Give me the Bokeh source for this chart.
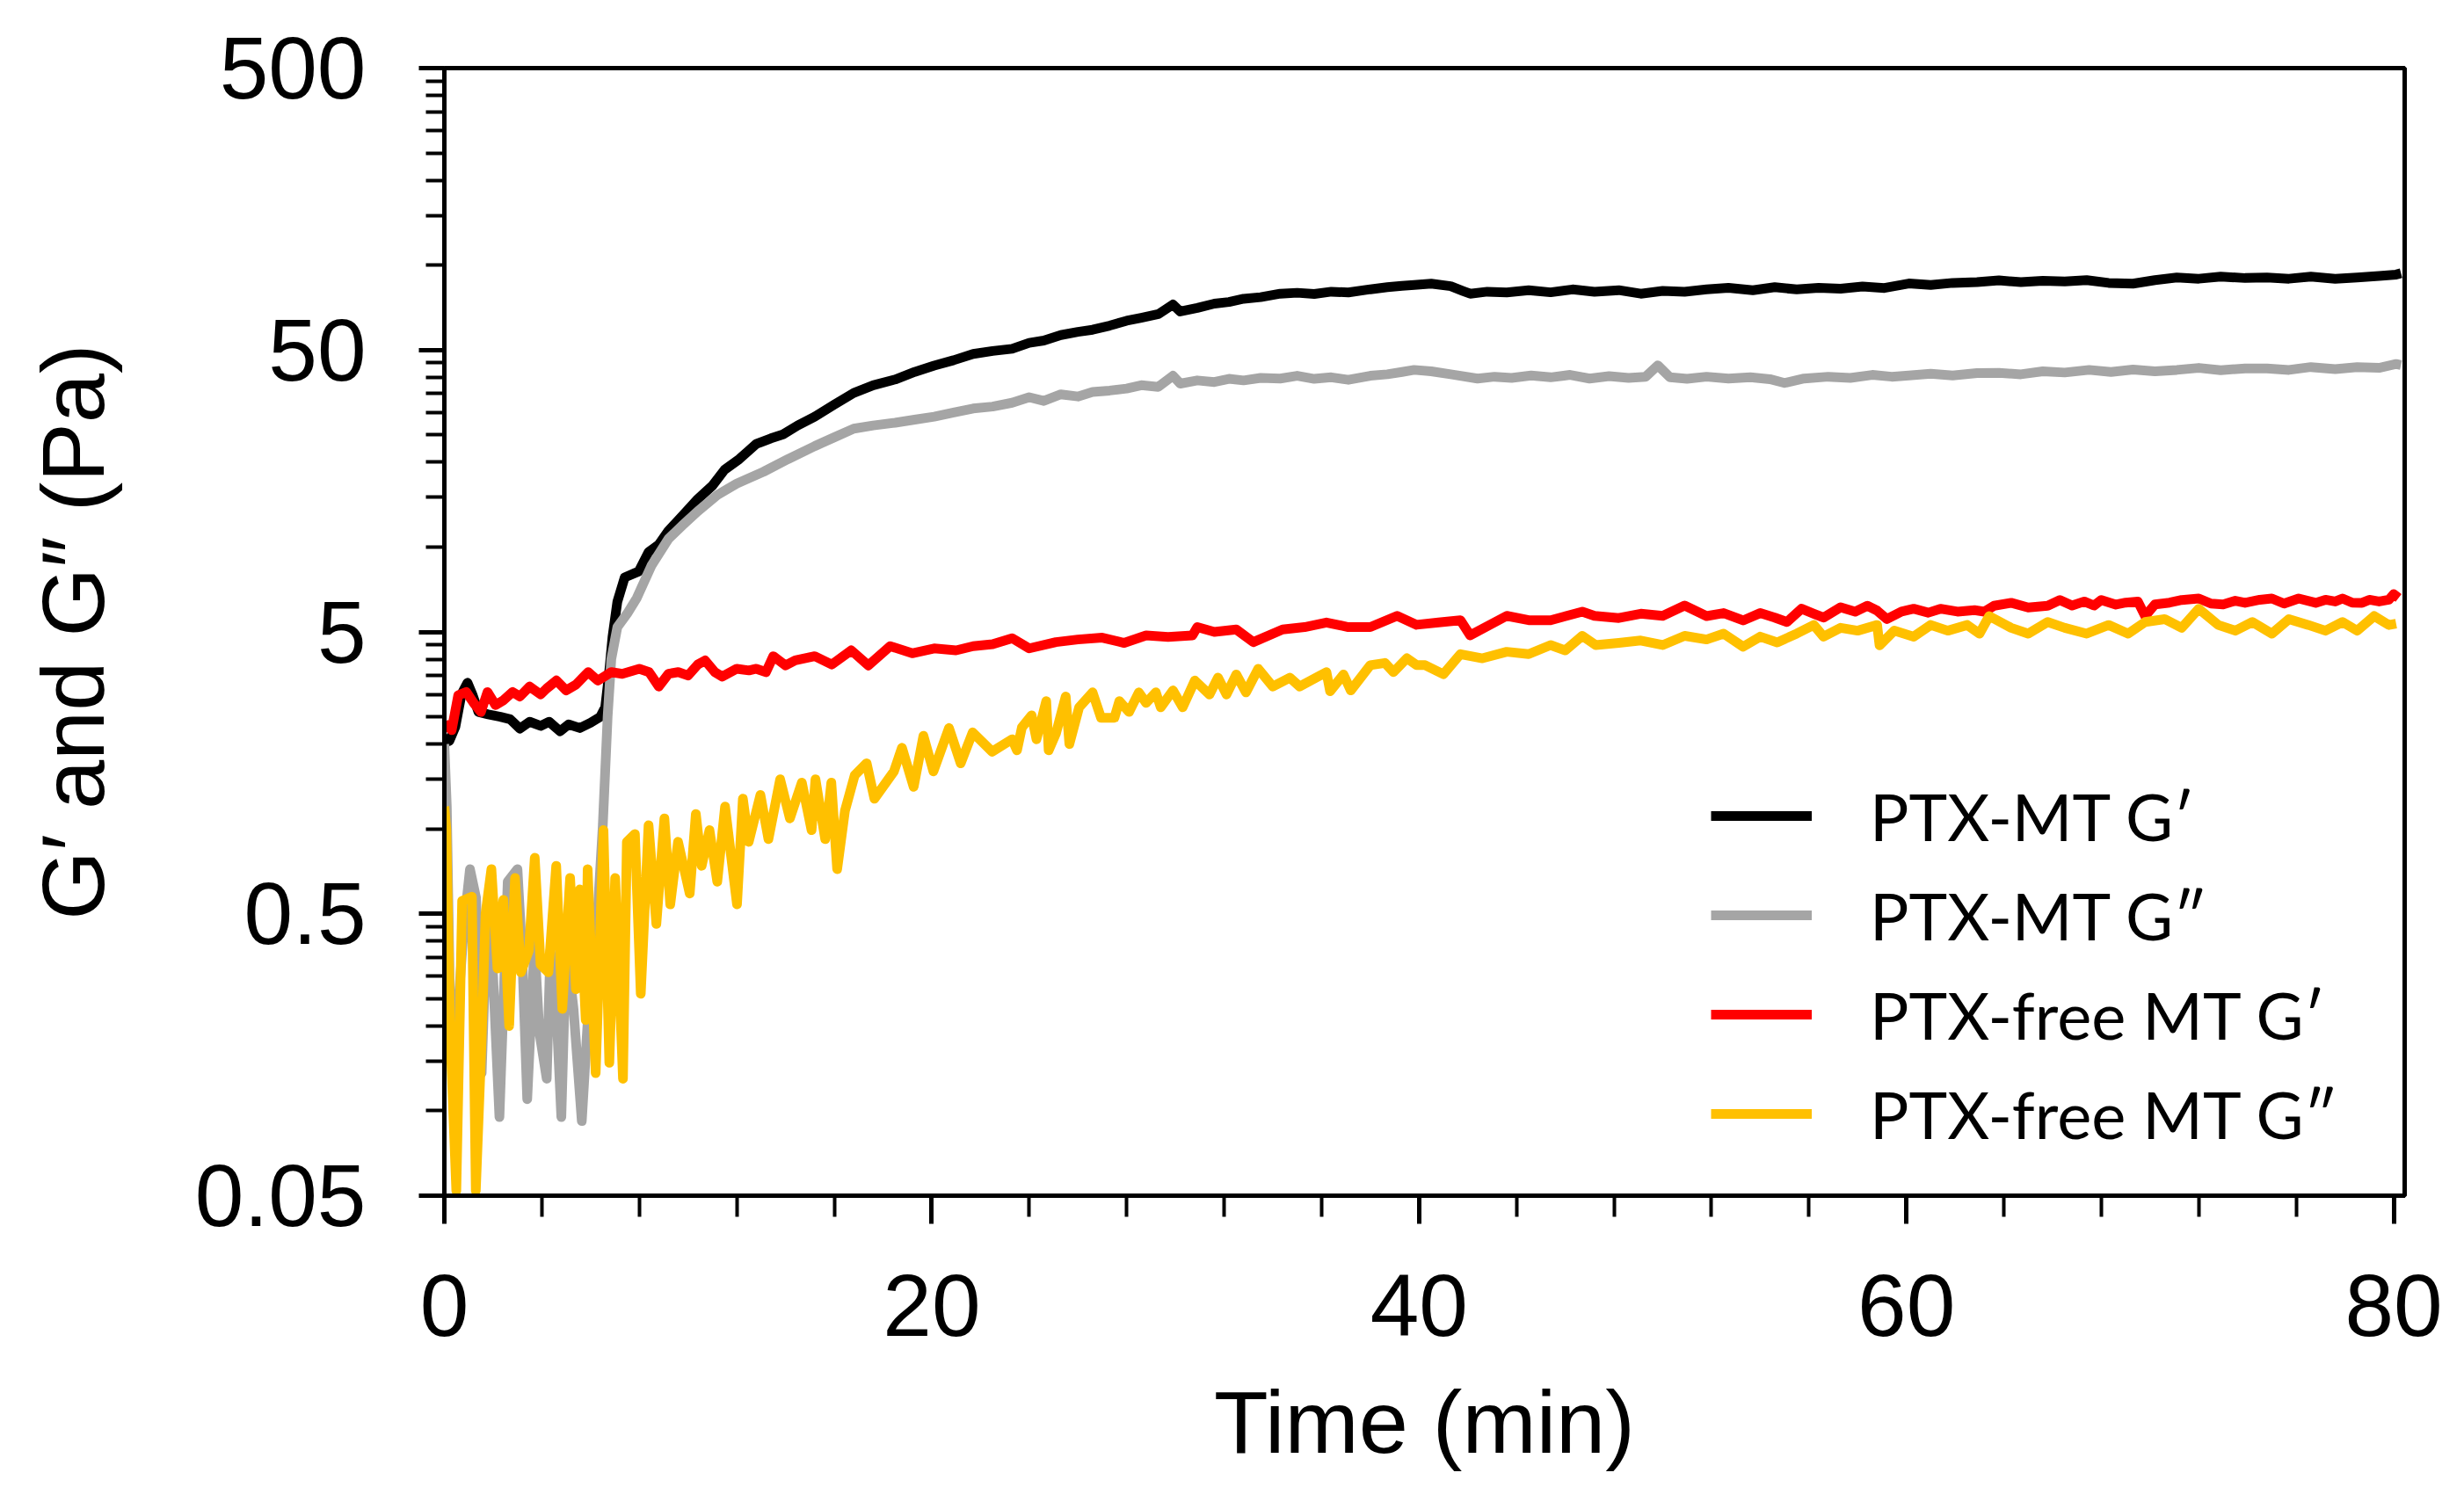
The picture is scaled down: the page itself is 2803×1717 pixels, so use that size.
from bokeh.plotting import figure
from bokeh.models import Range1d, FixedTicker, Legend, LegendItem
from bokeh.embed import file_html
from bokeh.resources import INLINE

# ---------------- data ----------------
series_names = ["PTX-MT G′", "PTX-MT G″", "PTX-free MT G′", "PTX-free MT G″"]
series_colors = ["#000000", "#A5A5A5", "#FF0000", "#FFC000"]

t_mt_g1 = [0, 0.2, 0.45, 0.7, 0.95, 1.15, 1.4, 1.8, 2.3, 2.7, 3.1, 3.5, 3.95, 4.3, 4.75,
           5.1, 5.56, 6.0, 6.4, 6.6, 6.75, 6.9, 7.1, 7.4, 7.98, 8.38, 8.8, 9.19, 9.8, 10.4,
           11.0, 11.5, 12.1, 12.8, 13.4, 13.9, 14.5, 15.2, 16.0, 16.8, 17.6, 18.5, 19.3,
           20.1, 20.9, 21.7, 22.5, 23.3, 24.0, 24.6, 25.3, 26.0, 26.6, 27.3, 28.0, 28.6,
           29.3, 29.9, 30.2, 30.9, 31.6, 32.2, 32.8, 33.5, 34.3, 35.0, 35.7, 36.4, 37.1,
           38.0, 38.7, 39.3, 39.8, 40.5, 41.3, 41.8, 42.1, 42.8, 43.6, 44.5, 45.4, 46.3,
           47.2, 48.2, 49.1, 50.0, 50.9, 51.8, 52.7, 53.7, 54.6, 55.5, 56.4, 57.3, 58.2,
           59.1, 60.1, 61.0, 61.9, 62.9, 63.8, 64.7, 65.6, 66.5, 67.4, 68.3, 69.3, 70.2,
           71.1, 72.0, 72.9, 73.9, 74.8, 75.7, 76.6, 77.6, 78.5, 79.4, 80.1, 80.3]
v_mt_g1 = [2.1, 2.05, 2.3, 3.0, 3.3, 3.0, 2.6, 2.55, 2.5, 2.45, 2.27, 2.4, 2.32, 2.4, 2.22,
           2.35, 2.28, 2.38, 2.5, 2.7, 3.5, 4.8, 6.4, 7.8, 8.2, 9.6, 10.2, 11.4, 13.0, 14.8,
           16.5, 18.8, 20.5, 23.2, 24.3, 25.1, 27.0, 29.0, 32.0, 35.2, 37.5, 39.3, 41.8,
           44.0, 46.0, 48.4, 49.6, 50.5, 53.0, 54.0, 56.5, 58.0, 59.0, 61.0, 63.5, 65.0,
           67.0, 72.5, 68.5, 70.5, 73.0, 74.0, 76.0, 77.0, 79.2, 79.8, 79.0, 80.5, 80.0,
           82.1, 83.5, 84.5, 85.1, 86.0, 84.2, 81.0, 79.2, 80.5, 80.0, 81.5, 80.1, 82.0,
           80.5, 81.5, 79.2, 81.0, 80.5, 82.0, 83.1, 81.5, 83.5, 82.0, 83.1, 82.5, 84.0,
           83.0, 86.1, 85.0, 86.5, 87.0, 88.3, 87.0, 88.0, 87.5, 88.5, 86.5, 86.0, 88.5,
           90.4, 89.5, 91.0, 90.0, 90.4, 89.5, 91.0, 89.5, 90.4, 91.5, 92.6, 93.6]

t_mt_g2 = [0, 0.1, 0.2, 0.24, 0.56, 0.8, 1.05, 1.3, 1.53, 1.75, 2.0, 2.26, 2.6, 3.0, 3.2,
           3.4, 3.7, 3.9, 4.2, 4.35, 4.55, 4.8, 5.0, 5.3, 5.64, 5.9, 6.2, 6.5, 6.7, 6.85,
           7.1, 7.5, 7.9, 8.5, 9.2, 9.8, 10.4, 11.2, 12.0, 13.1, 14.1, 15.2, 16.0, 16.8,
           17.6, 18.5, 19.3, 20.1, 20.9, 21.7, 22.5, 23.3, 24.0, 24.6, 25.3, 26.0, 26.6,
           27.3, 28.0, 28.6, 29.3, 29.9, 30.2, 30.9, 31.6, 32.2, 32.8, 33.5, 34.3, 35.0,
           35.7, 36.4, 37.1, 38.0, 38.7, 39.3, 39.8, 40.5, 41.3, 42.4, 43.1, 43.8, 44.6,
           45.4, 46.2, 47.0, 47.8, 48.6, 49.3, 49.8, 50.3, 51.0, 51.8, 52.7, 53.6, 54.4,
           55.0, 55.8, 56.8, 57.7, 58.6, 59.4, 60.1, 61.0, 61.9, 62.9, 63.8, 64.7, 65.6,
           66.5, 67.5, 68.4, 69.3, 70.2, 71.1, 72.0, 72.9, 73.9, 74.8, 75.7, 76.6, 77.6,
           78.5, 79.4, 80.1, 80.3]
v_mt_g2 = [2.0, 1.2, 0.35, 0.19, 0.23, 0.45, 0.72, 0.57, 0.136, 0.49, 0.3, 0.095, 0.65, 0.72,
           0.35, 0.11, 0.39, 0.19, 0.13, 0.37, 0.28, 0.095, 0.39, 0.23, 0.092, 0.22, 0.37,
           1.02, 2.5, 4.0, 5.2, 5.8, 6.6, 8.6, 10.7, 12.0, 13.4, 15.3, 16.8, 18.5, 20.5,
           22.8, 24.5, 26.3, 27.0, 27.6, 28.3, 29.0, 30.0, 31.0, 31.5, 32.5, 34.0, 33.0,
           34.8, 34.2, 35.5, 35.9, 36.5, 37.5, 37.0, 40.5, 38.0, 39.0, 38.5, 39.5, 39.0,
           39.8, 39.6, 40.5, 39.5, 40.0, 39.2, 40.5, 41.0, 41.8, 42.5, 42.0, 41.0, 39.6,
           40.2, 39.8, 40.6, 40.0, 40.8, 39.6, 40.4, 39.8, 40.2, 44.1, 40.0, 39.5, 40.2,
           39.6, 40.0, 39.4, 38.2, 39.6, 40.2, 39.8, 40.8, 40.2, 40.6, 41.2, 40.6, 41.4,
           41.5, 41.0, 42.0, 41.6, 42.5, 41.8, 42.6, 42.0, 42.5, 43.2, 42.4, 43.0, 43.0,
           42.5, 43.5, 42.8, 43.5, 43.2, 44.6, 44.2]

t_free_g1 = [0, 0.3, 0.57, 0.9, 1.2, 1.5, 1.77, 2.1, 2.4, 2.8, 3.1, 3.5, 3.95, 4.2, 4.6, 5.0,
             5.4, 5.9, 6.3, 6.85, 7.3, 8.0, 8.4, 8.8, 9.2, 9.6, 10.0, 10.4, 10.7, 11.1, 11.4,
             12.0, 12.5, 12.8, 13.2, 13.5, 14.0, 14.4, 15.2, 15.9, 16.7, 17.4, 18.3, 19.2,
             20.1, 21.0, 21.7, 22.5, 23.3, 24.0, 25.1, 26.0, 27.0, 27.9, 28.8, 29.7, 30.7,
             30.9, 31.6, 32.5, 33.2, 34.4, 35.3, 36.2, 37.1, 38.0, 39.1, 39.9, 40.8, 41.7,
             42.1, 43.6, 44.5, 45.4, 46.7, 47.2, 48.2, 49.1, 50.0, 50.9, 51.8, 52.5, 53.3,
             54.0, 54.6, 55.1, 55.7, 56.2, 56.6, 57.3, 57.9, 58.4, 58.8, 59.2, 59.8, 60.3,
             60.9, 61.4, 62.1, 62.8, 63.2, 63.6, 64.3, 65.0, 65.8, 66.3, 66.8, 67.3, 67.7,
             68.0, 68.6, 69.0, 69.5, 69.8, 70.2, 70.8, 71.3, 72.0, 72.5, 73.0, 73.5, 73.9,
             74.5, 75.0, 75.5, 76.1, 76.8, 77.2, 77.6, 77.9, 78.3, 78.7, 79.0, 79.4, 79.8,
             80.0, 80.2]
v_free_g1 = [2.37, 2.24, 2.98, 3.06, 2.8, 2.6, 3.06, 2.75, 2.85, 3.06, 2.95, 3.2, 3.0, 3.15,
             3.36, 3.1, 3.25, 3.6, 3.36, 3.6, 3.55, 3.7, 3.6, 3.2, 3.55, 3.6, 3.5, 3.83, 3.96,
             3.6, 3.47, 3.7, 3.65, 3.7, 3.6, 4.1, 3.8, 3.96, 4.1, 3.83, 4.3, 3.8, 4.45, 4.2,
             4.37, 4.3, 4.45, 4.52, 4.75, 4.37, 4.6, 4.7, 4.77, 4.57, 4.86, 4.8, 4.86, 5.2,
             5.0, 5.1, 4.6, 5.1, 5.2, 5.4, 5.2, 5.2, 5.7, 5.3, 5.4, 5.5, 4.86, 5.7, 5.5, 5.5,
             5.9, 5.7, 5.6, 5.8, 5.7, 6.2, 5.69, 5.83, 5.49, 5.83, 5.62, 5.42, 6.04, 5.8,
             5.62, 6.11, 5.9, 6.19, 5.95, 5.55, 5.9, 6.04, 5.85, 6.04, 5.9, 5.97, 5.9, 6.19,
             6.34, 6.1, 6.19, 6.49, 6.2, 6.41, 6.2, 6.49, 6.25, 6.35, 6.41, 5.69, 6.26, 6.35,
             6.49, 6.57, 6.3, 6.26, 6.45, 6.34, 6.5, 6.57, 6.3, 6.57, 6.34, 6.5, 6.41, 6.57,
             6.35, 6.34, 6.5, 6.41, 6.5, 6.81, 6.6]

t_free_g2 = [0, 0.08, 0.24, 0.49, 0.73, 1.13, 1.29, 1.53, 1.69, 1.93, 2.18, 2.42, 2.66, 2.9,
             3.14, 3.47, 3.71, 3.95, 4.27, 4.59, 4.84, 5.16, 5.4, 5.56, 5.8, 5.88, 6.21, 6.53,
             6.77, 7.01, 7.33, 7.49, 7.82, 8.06, 8.38, 8.7, 9.03, 9.27, 9.59, 10.07, 10.32,
             10.56, 10.88, 11.2, 11.52, 12.01, 12.25, 12.49, 12.97, 13.3, 13.78, 14.18, 14.67,
             15.07, 15.23, 15.63, 15.88, 16.12, 16.44, 16.84, 17.33, 17.65, 18.45, 18.78,
             19.26, 19.66, 20.07, 20.71, 21.19, 21.68, 22.48, 23.3, 23.5, 23.7, 24.1, 24.3,
             24.7, 24.8, 25.1, 25.5, 25.65, 26.05, 26.6, 26.95, 27.5, 27.7, 28.1, 28.5, 28.8,
             29.2, 29.4, 29.9, 30.3, 30.8, 31.4, 31.75, 32.1, 32.5, 32.9, 33.4, 34.0, 34.7,
             35.1, 36.2, 36.35, 36.9, 37.2, 38.0, 38.6, 38.95, 39.5, 39.9, 40.25, 41.0, 41.7,
             42.6, 43.6, 44.5, 45.4, 46.0, 46.7, 47.25, 48.2, 49.1, 50.0, 50.9, 51.8, 52.5,
             53.3, 54.0, 54.7, 55.5, 56.2, 56.6, 57.3, 58.0, 58.8, 58.9, 59.5, 60.3, 61.0,
             61.7, 62.5, 63.0, 63.4, 64.3, 65.0, 65.8, 66.5, 67.4, 68.3, 69.1, 69.8, 70.6,
             71.3, 72.0, 72.8, 73.5, 74.2, 75.0, 75.7, 76.5, 77.2, 77.9, 78.5, 79.2, 79.8,
             80.1]
v_free_g2 = [1.2, 1.0, 0.19, 0.052, 0.556, 0.575, 0.052, 0.18, 0.5, 0.72, 0.32, 0.56, 0.2,
             0.67, 0.31, 0.37, 0.79, 0.33, 0.31, 0.74, 0.23, 0.67, 0.27, 0.61, 0.21, 0.72,
             0.136, 0.99, 0.148, 0.67, 0.13, 0.9, 0.96, 0.26, 1.03, 0.46, 1.09, 0.54, 0.9,
             0.59, 1.13, 0.74, 0.99, 0.65, 1.2, 0.54, 1.28, 0.9, 1.32, 0.92, 1.5, 1.09, 1.46,
             0.99, 1.5, 0.92, 1.46, 0.72, 1.16, 1.55, 1.71, 1.28, 1.6, 1.94, 1.41, 2.14, 1.6,
             2.28, 1.71, 2.2, 1.88, 2.08, 1.9, 2.29, 2.53, 2.08, 2.84, 1.9, 2.18, 2.95, 2.0,
             2.7, 3.05, 2.48, 2.48, 2.84, 2.6, 3.05, 2.8, 3.05, 2.7, 3.1, 2.7, 3.36, 3.0, 3.44,
             3.0, 3.53, 3.05, 3.7, 3.2, 3.44, 3.2, 3.6, 3.08, 3.53, 3.1, 3.81, 3.88, 3.6, 4.03,
             3.81, 3.81, 3.54, 4.17, 4.03, 4.25, 4.17, 4.49, 4.3, 4.84, 4.49, 4.57, 4.66, 4.49,
             4.84, 4.7, 4.93, 4.43, 4.81, 4.59, 4.93, 5.29, 4.81, 5.17, 5.05, 5.29, 4.48, 5.05,
             4.81, 5.29, 5.05, 5.29, 4.93, 5.69, 5.17, 4.93, 5.42, 5.17, 4.93, 5.29, 4.93, 5.42,
             5.55, 5.17, 6.04, 5.29, 5.05, 5.42, 4.93, 5.55, 5.29, 5.05, 5.42, 5.05, 5.69, 5.29,
             5.35]

x_major = [0, 20, 40, 60, 80]
x_minor = [4, 8, 12, 16, 24, 28, 32, 36, 44, 48, 52, 56, 64, 68, 72, 76]
y_major = [0.05, 0.5, 5, 50, 500]
y_major_labels = ["0.05", "0.5", "5", "50", "500"]
y_minor = [m * k for m in [0.05, 0.5, 5, 50] for k in range(2, 10)]

x_title = "Time (min)"
y_title = "G′ and G″ (Pa)"

# ---------------- figure ----------------
p = figure(width=2787, height=1701,
           x_range=Range1d(0, 80.45), y_range=Range1d(0.05, 500),
           y_axis_type="log", output_backend="svg", toolbar_location=None,
           min_border_left=505, min_border_right=52, min_border_top=77,
           min_border_bottom=341)
p.xgrid.visible = False
p.ygrid.visible = False
p.background_fill_color = "white"
p.border_fill_color = "white"
p.outline_line_color = "black"
p.outline_line_width = 5
p.outline_line_alpha = 1.0

xs = [t_mt_g1, t_mt_g2, t_free_g1, t_free_g2]
ys = [v_mt_g1, v_mt_g2, v_free_g1, v_free_g2]
renderers = []
for x, y, c in zip(xs, ys, series_colors):
    r = p.line(x, y, line_color=c, line_width=11, line_join="round")
    renderers.append(r)

# axes
for ax in (p.xaxis, p.yaxis):
    ax.axis_line_width = 5
    ax.axis_line_color = "black"
    ax.major_tick_line_width = 5
    ax.minor_tick_line_width = 4
    ax.major_tick_in = 0
    ax.minor_tick_in = 0
    ax.major_label_text_font = "Liberation Sans"
    ax.major_label_text_font_size = "100px"
    ax.major_label_text_color = "black"
    ax.axis_label_text_font = "Liberation Sans"
    ax.axis_label_text_font_size = "101px"
    ax.axis_label_text_font_style = "normal"
    ax.axis_label_text_color = "black"

p.xaxis.ticker = FixedTicker(ticks=x_major, minor_ticks=x_minor)
p.xaxis.major_tick_out = 32
p.xaxis.minor_tick_out = 24
p.xaxis.major_label_standoff = 58
p.xaxis.axis_label = x_title
p.xaxis.axis_label_standoff = 39

p.yaxis.ticker = FixedTicker(ticks=y_major, minor_ticks=y_minor)
p.yaxis.major_label_overrides = {v: s for v, s in zip(y_major, y_major_labels)}
p.yaxis.major_tick_out = 29
p.yaxis.minor_tick_out = 21
p.yaxis.major_label_standoff = 60
p.yaxis.axis_label = y_title
p.yaxis.axis_label_standoff = 80

legend = Legend(items=[LegendItem(label=n, renderers=[r]) for n, r in zip(series_names, renderers)],
                location=(1441, 48), orientation="vertical",
                border_line_color=None, background_fill_alpha=0.0,
                padding=0, margin=0, spacing=23,
                glyph_width=115, glyph_height=90, label_height=90,
                label_standoff=66, label_text_font="Lato",
                label_text_font_size="74px", label_text_color="black")
p.add_layout(legend)

open("out.html", "w").write(file_html(p, INLINE))
